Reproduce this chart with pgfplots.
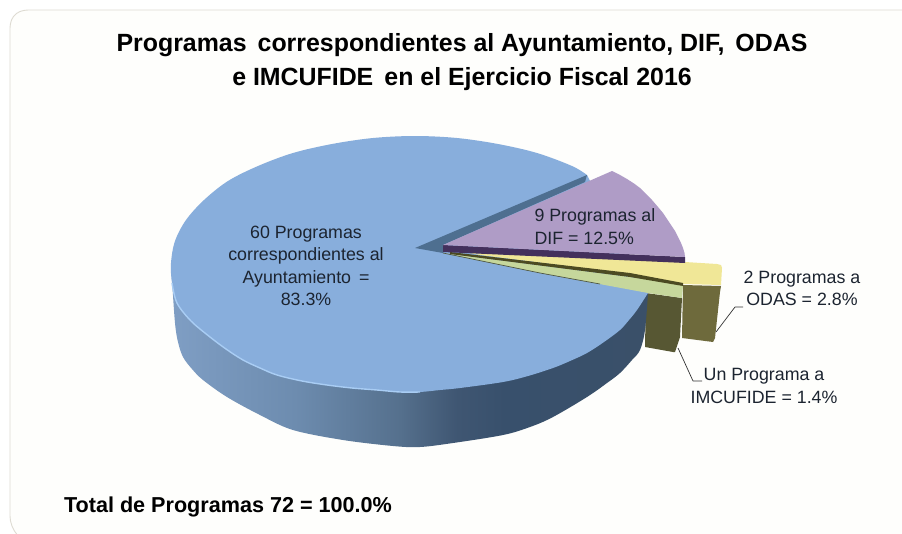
\documentclass[border=0pt]{standalone}
\usepackage{pgfplots}
\pgfplotsset{compat=1.18}
\usepackage{fontspec}
\setmainfont{Liberation Sans}
\definecolor{topblue}{HTML}{88AEDC}
\definecolor{rim}{HTML}{A9CDF4}
\definecolor{notch}{HTML}{4E6F90}
\definecolor{purp}{HTML}{AF9CC6}
\definecolor{purpw}{HTML}{43305C}
\definecolor{yell}{HTML}{F0E797}
\definecolor{grn}{HTML}{C6D79C}
\definecolor{oliveA}{HTML}{6E6A3C}
\definecolor{oliveB}{HTML}{575733}
\definecolor{dkol}{HTML}{4C4A22}
\definecolor{frame}{HTML}{DEDBD2}
\definecolor{bgc}{HTML}{FEFEFC}
\definecolor{s1}{HTML}{7F9EC4}
\definecolor{s2}{HTML}{6D8CAF}
\definecolor{s3}{HTML}{55708D}
\definecolor{s4}{HTML}{3F5672}
\definecolor{s5}{HTML}{38506C}
\definecolor{s6}{HTML}{3A5069}
\definecolor{txt}{HTML}{1C2430}
\pgfdeclarehorizontalshading{sidegrad}{100bp}{color(0bp)=(s1); color(25bp)=(s1); color(38bp)=(s2); color(49bp)=(s3); color(55bp)=(s4); color(60bp)=(s5); color(75bp)=(s6); color(100bp)=(s6)}
\newcommand{\lab}{\fontsize{17.8}{22.4}\selectfont}
\begin{document}
\begin{tikzpicture}
\begin{axis}[
  scale only axis, width=902pt, height=533pt,
  xmin=0, xmax=902, ymin=0, ymax=533, y dir=reverse,
  hide axis, clip=true, no marks,
  every axis plot/.append style={line join=round}]
% page and frame
\addplot[fill=white, draw=none] coordinates {(0,0) (902,0) (902,533) (0,533)};
\addplot[fill=bgc, draw=frame, line width=0.9pt] coordinates {(904,10) (28,10) (24,10.4) (20,11.5) (16.5,13.5) (13.5,16.5) (11.5,20) (10.4,24) (10,28) (10,516) (10.5,521) (12,526) (14.5,531) (18,536) (904,536)};
% outer walls of the two small slices
\addplot[fill=oliveA, draw=none] coordinates {(683,285) (721,286) (720,292) (715,338) (713,342) (682,338)};
\addplot[fill=oliveB, draw=none] coordinates {(646,293) (682,298) (680,337) (675,352) (673,352) (645,347)};
% side of the main slice
\addplot[shading=sidegrad, draw=none, smooth, tension=0.55] coordinates {
 (171,263) (172,280) (175,323) (178,342) (183,357) (192,369) (203,380) (227,397) (260,415) (293,430) (343,440) (393,446) (420,447) (453,443) (503,435) (530,427) (553,417) (587,397) (607,383) (620,373) (632,360) (640,350) (645,330) (648,293)};
% top of the main slice
\addplot[fill=topblue, draw=none, smooth, tension=0.55] coordinates {
 (587,175) (572,166) (537,153) (498,144) (457,138) (415,136) (373,138) (332,144) (293,153) (258,166) (228,181) (204,200) (186,220) (175,241) (171,263) (172,283) (177,303) (191,321) (210,337) (226,349) (243,360) (260,368) (277,375) (302,381) (327,385) (352,388) (377,390) (400,392) (420,392) (440,390) (460,388) (503,382) (528,376) (553,368) (570,361) (587,353) (604,342) (620,330) (629,320) (637,310) (648,293)};
% light rim on the front edge
\addplot[draw=rim, line width=1.4pt, smooth, tension=0.55] coordinates {(172,283) (177,303) (191,321) (210,337) (226,349) (243,360) (260,368) (277,375) (302,381) (327,385) (352,388) (377,390) (400,392) (420,392)};
% wall seen in the cut
\addplot[fill=notch, draw=none] coordinates {(415,248) (587,175) (585,182) (443,245) (443,253)};
% yellow slice
\addplot[fill=yell, draw=none] coordinates {(470,253) (685,262) (717,264) (721,265) (722,268) (721,285) (683,284) (630,274) (480,255)};
% green slice
\addplot[fill=grn, draw=none] coordinates {(443,253) (630,277) (683,285) (682,298) (648,293) (540,273)};
\addplot[fill=dkol, draw=none] coordinates {(450,252) (630,273) (683,283) (683,286) (630,277) (450,254)};
\addplot[draw=dkol!70!notch, line width=0.7pt] coordinates {(443,253) (540,273) (600,284)};
% purple slice
\addplot[fill=purpw, draw=none] coordinates {(443,245) (685,257) (685,263) (443,252)};
\addplot[fill=purp, draw=none] coordinates {(443,245) (612,171) (620,175) (627,179) (634,183.5) (640,188) (646,194) (652,200) (658,207) (663,213) (667,219) (671,225) (675,231) (678,237) (681,243) (683,248) (684.5,253) (685,257)};
% leaders
\addplot[draw=black!80, line width=0.7pt] coordinates {(716,332) (735,307) (743,307)};
\addplot[draw=black!80, line width=0.7pt] coordinates {(678,348) (693,381) (702,381)};
% texts
\node[font=\bfseries\fontsize{24.9}{34}\selectfont, align=center, text=black] at (axis cs:462,62) {Programas\, correspondientes al Ayuntamiento, DIF,\, ODAS\\e IMCUFIDE\, en el Ejercicio Fiscal 2016};
\node[font=\bfseries\fontsize{21.6}{26}\selectfont, text=black] at (axis cs:228,507) {Total de Programas 72 = 100.0\%};
\node[font=\lab, align=center, text=txt] at (axis cs:306,266) {60 Programas\\correspondientes al\\Ayuntamiento\, =\\83.3\%};
\node[font=\lab, align=left, text=txt, anchor=west] at (axis cs:531,226.5) {9 Programas al\\DIF = 12.5\%};
\node[font=\lab, align=center, text=txt] at (axis cs:802,288.5) {2 Programas a\\ODAS = 2.8\%};
\node[font=\lab, align=center, text=txt] at (axis cs:764,386) {Un Programa a\\IMCUFIDE = 1.4\%};
\end{axis}
\end{tikzpicture}
\end{document}
